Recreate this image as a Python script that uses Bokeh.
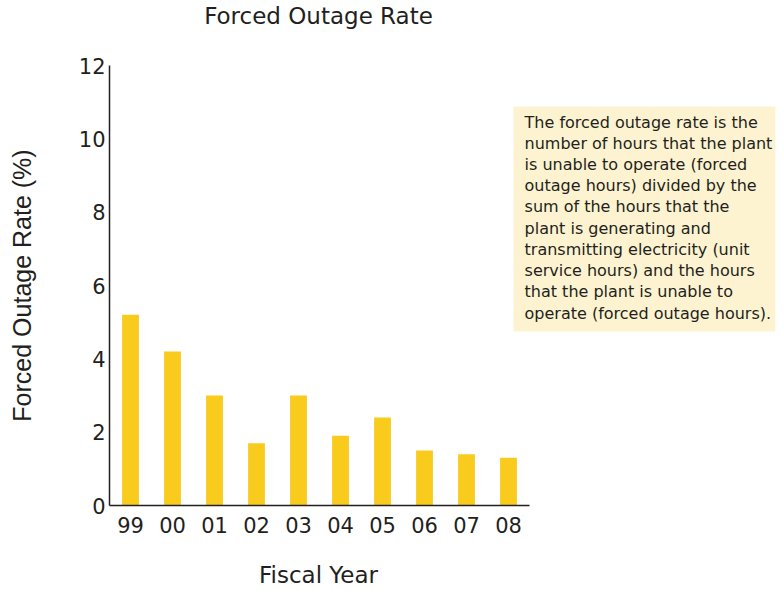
from bokeh.plotting import figure
from bokeh.models import Range1d, FixedTicker, Label, ColumnDataSource
from bokeh.embed import file_html
from bokeh.resources import INLINE

years = ["99", "00", "01", "02", "03", "04", "05", "06", "07", "08"]
rates = [5.2, 4.2, 3.0, 1.7, 3.0, 1.9, 2.4, 1.5, 1.4, 1.3]
y_ticks = [0, 2, 4, 6, 8, 10, 12]

title_text = "Forced Outage Rate"
x_label = "Fiscal Year"
y_label = "Forced Outage Rate (%)"
note_text = ("The forced outage rate is the\n"
             "number of hours that the plant\n"
             "is unable to operate (forced\n"
             "outage hours) divided by the\n"
             "sum of the hours that the\n"
             "plant is generating and\n"
             "transmitting electricity (unit\n"
             "service hours) and the hours\n"
             "that the plant is unable to\n"
             "operate (forced outage hours).")

FONT = "DejaVu Sans"
FONT2 = "Liberation Sans"
TXT = "#231F20"

pos = list(range(len(years)))
n = len(years)
x_end = -0.5 + (784 - 109) / 42   # room right of the bars for the note box

p = figure(width=784, height=590, output_backend="svg", toolbar_location=None,
           x_range=Range1d(-0.5, x_end),
           y_range=Range1d(0, 12),
           min_border_left=109, min_border_right=0,
           min_border_top=65, min_border_bottom=85)
p.outline_line_color = None
p.xgrid.grid_line_color = None
p.ygrid.grid_line_color = None
p.background_fill_color = "white"
p.border_fill_color = "white"

src = ColumnDataSource(dict(x=pos, rate=rates))
p.vbar(x="x", top="rate", width=0.4, bottom=0, source=src,
       fill_color="#F9CB1C", line_color=None)

for ax in (p.xaxis[0], p.yaxis[0]):
    ax.axis_line_color = TXT
    ax.axis_line_width = 1.5
    ax.major_tick_line_color = None
    ax.minor_tick_line_color = None
    ax.major_tick_out = 0
    ax.major_tick_in = 0
    ax.minor_tick_out = 0
    ax.minor_tick_in = 0
    ax.major_label_text_font = FONT
    ax.major_label_text_font_size = "21px"
    ax.major_label_text_color = TXT
    ax.axis_label_text_font_style = "normal"
    ax.axis_label_text_color = TXT

p.yaxis[0].ticker = FixedTicker(ticks=y_ticks)
p.yaxis[0].major_label_standoff = 4
p.yaxis[0].axis_label = y_label
p.yaxis[0].axis_label_text_font = FONT2
p.yaxis[0].axis_label_text_font_size = "25px"
p.yaxis[0].axis_label_standoff = 40

p.xaxis[0].ticker = FixedTicker(ticks=pos)
p.xaxis[0].major_label_overrides = {i: y for i, y in zip(pos, years)}
p.xaxis[0].bounds = (-0.5, n - 0.5)
p.xaxis[0].major_label_standoff = 11

# texts outside the frame go in side panels so they are not clipped
p.add_layout(Label(x=4.476, y=13.36, x_units="data", y_units="data",
                   text=title_text, text_align="center", text_baseline="middle",
                   text_font=FONT, text_font_size="23px", text_color=TXT), "above")

p.add_layout(Label(x=4.476, y=-1.909, x_units="data", y_units="data",
                   text=x_label, text_align="center", text_baseline="middle",
                   text_font=FONT, text_font_size="23px", text_color=TXT), "below")

p.add_layout(Label(x=9.12, y=10.88, x_units="data", y_units="data",
                   text=note_text, text_align="left", text_baseline="top",
                   text_font=FONT, text_font_size="16px", text_color=TXT,
                   text_line_height=1.117,
                   background_fill_color="#FDF3D1", padding=(11, 3, 6, 9)))

open("out.html", "w").write(file_html(p, INLINE))
